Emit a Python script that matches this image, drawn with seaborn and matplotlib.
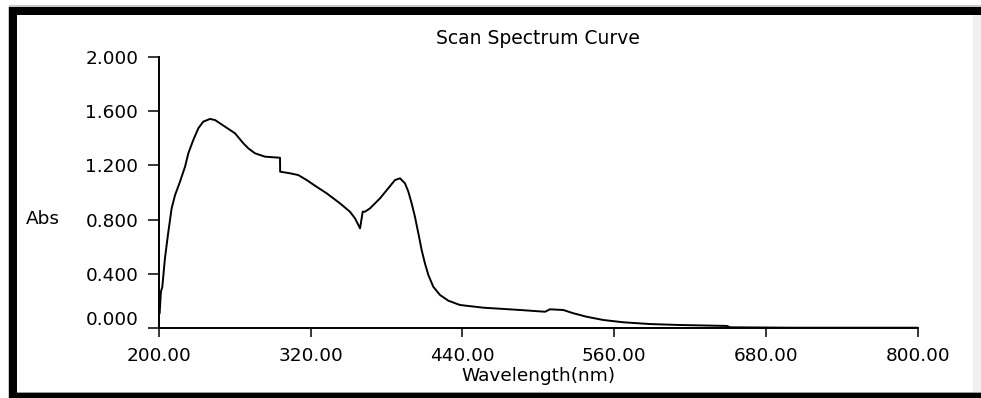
import matplotlib
matplotlib.use("Agg")
import matplotlib.pyplot as plt
import matplotlib.transforms as mtransforms
from matplotlib.patches import Rectangle
from matplotlib.ticker import FormatStrFormatter
import seaborn as sns
import pandas as pd

# Absorbance scan of the sample (wavelength in nm, absorbance units)
wavelength = [200.5, 201.5, 202.6, 204.7, 207.4, 210.0, 212.7, 216.6, 220.6, 223.2,
              227.1, 231.1, 235.0, 240.3, 244.3, 252.2, 260.1, 266.7, 270.6, 275.9,
              283.8, 295.7, 295.8, 303.6, 310.2, 316.8, 323.4, 332.6, 343.1, 351.0,
              355.0, 359.0, 361.1, 362.9, 366.9, 374.8, 381.3, 386.6, 390.6, 394.5,
              397.2, 399.8, 402.4, 405.1, 407.7, 410.3, 413.0, 416.9, 422.2, 428.8,
              438.0, 456.5, 485.5, 505.3, 509.2, 519.7, 527.6, 538.2, 551.4, 567.2,
              588.3, 612.0, 649.0, 651.6, 700.0, 800.0]
absorbance = [0.105, 0.266, 0.300, 0.513, 0.710, 0.883, 0.981, 1.080, 1.191, 1.290,
              1.388, 1.475, 1.524, 1.544, 1.536, 1.487, 1.438, 1.364, 1.327, 1.290,
              1.265, 1.257, 1.154, 1.142, 1.129, 1.092, 1.050, 0.994, 0.920, 0.858,
              0.809, 0.735, 0.858, 0.858, 0.883, 0.957, 1.031, 1.092, 1.105, 1.068,
              1.006, 0.920, 0.821, 0.698, 0.575, 0.476, 0.390, 0.303, 0.242, 0.200,
              0.168, 0.148, 0.131, 0.118, 0.136, 0.131, 0.107, 0.081, 0.057, 0.040,
              0.027, 0.020, 0.013, 0.003, 0.000, 0.000]

x_ticks = [200, 320, 440, 560, 680, 800]
y_ticks = [0.0, 0.4, 0.8, 1.2, 1.6, 2.0]

title_text = "Scan Spectrum Curve"
x_label = "Wavelength(nm)"
y_label = "Abs"

sns.set_theme(style="ticks")
plt.rcParams["font.family"] = ["DejaVu Sans"]

W, H = 981, 398
fig = plt.figure(figsize=(W / 100, H / 100), dpi=100)
fig.patch.set_facecolor("white")


def px_rect(x0, y0, x1, y1, color):
    """Rectangle given in pixel coordinates measured from the top-left corner."""
    fig.patches.append(Rectangle((x0 / W, 1 - y1 / H), (x1 - x0) / W, (y1 - y0) / H,
                                 transform=fig.transFigure, facecolor=color,
                                 edgecolor="none", zorder=0))


# window frame around the plot area
px_rect(9, 5.5, W, 7, "#c8c8c8")
px_rect(9, 7, W, 15, "black")
px_rect(7.5, 7, 9, H, "#c8c8c8")
px_rect(9, 7, 17, H, "black")
px_rect(973, 15, W, 392, "#f0f0f0")
px_rect(17, 392, W, 393.3, "#9a9a9a")
px_rect(9, 393.3, W, H, "black")

left, right = 159 / W, 917.7 / W
bottom, top = 1 - 327.7 / H, 1 - 57.3 / H
ax = fig.add_axes([left, bottom, right - left, top - bottom])
ax.set_facecolor("none")

df = pd.DataFrame({"Wavelength": wavelength, "Abs": absorbance})
sns.lineplot(data=df, x="Wavelength", y="Abs", sort=False, estimator=None,
             color="black", linewidth=1.4, ax=ax)

ax.set_xlim(200, 800)
ax.set_ylim(0, 2.0)
ax.set_xticks(x_ticks)
ax.set_yticks(y_ticks)
ax.xaxis.set_major_formatter(FormatStrFormatter("%.2f"))
ax.yaxis.set_major_formatter(FormatStrFormatter("%.3f"))

for side in ("top", "right"):
    ax.spines[side].set_visible(False)
for side in ("left", "bottom"):
    ax.spines[side].set_color("black")
    ax.spines[side].set_linewidth(1.4)

ax.tick_params(axis="y", direction="out", length=7.9, width=1.1, pad=7.0,
               labelsize=13.3, colors="black")
ax.tick_params(axis="x", direction="out", length=6.5, width=1.1, pad=7.2,
               labelsize=13.3, colors="black")

# lift the bottom y label clear of the x axis
fig.canvas.draw()
lbl0 = ax.get_yticklabels()[0]
lbl0.set_transform(lbl0.get_transform() +
                   mtransforms.ScaledTranslation(0, 10 / 100, fig.dpi_scale_trans))

ax.set_title(title_text, fontsize=13.5, color="black", pad=9.6)
ax.set_xlabel(x_label, fontsize=13.3, color="black", va="center")
ax.xaxis.set_label_coords(0.5, (327.7 - 376) / 270.4)
ax.set_ylabel(y_label, fontsize=13.3, color="black", rotation=0,
              ha="center", va="center")
ax.yaxis.set_label_coords((43 - 159) / 758.7, (327.7 - 219) / 270.4)

fig.savefig("out.png", dpi=100)
